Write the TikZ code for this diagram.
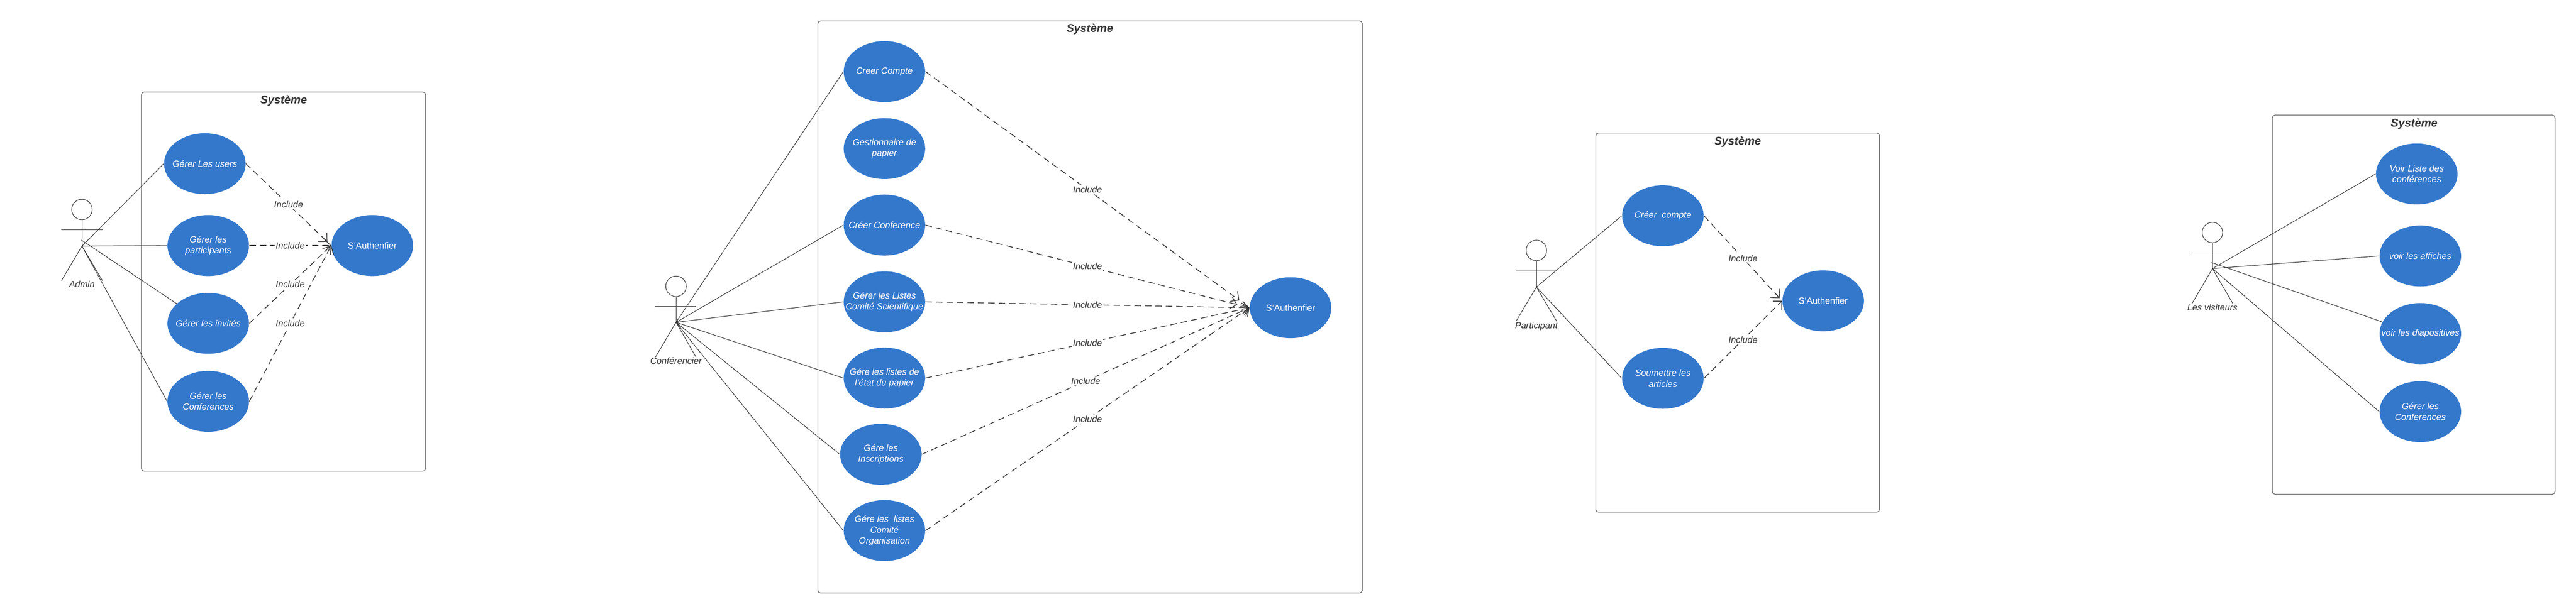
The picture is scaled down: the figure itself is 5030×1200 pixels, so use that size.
\documentclass[tikz,border=0pt]{standalone}
\usepackage{fontspec}
\setmainfont{Liberation Sans}
\usetikzlibrary{arrows.meta, shapes.geometric}
\definecolor{caseblue}{HTML}{3478CC}
\definecolor{inkgray}{HTML}{333333}
\definecolor{boxgray}{HTML}{6F6F6F}

\tikzset{
  sysbox/.style={draw=boxgray, line width=0.4pt, rounded corners=1.5pt},
  systitle/.style={font=\fontsize{6.3}{7.5}\selectfont\bfseries\itshape, text=inkgray, inner sep=0pt},
  usecase/.style={ellipse, fill=caseblue, text=white, align=center, inner xsep=-6pt, inner ysep=0pt,
    minimum width=1.59cm, minimum height=1.19cm, font=\fontsize{5}{6.1}\selectfont\itshape,
    execute at end node={\\[-3.7pt]}},
  authcase/.style={usecase, font=\fontsize{5}{6.1}\selectfont},
  actorline/.style={draw=inkgray, line width=0.3pt},
  actorhead/.style={circle, draw=inkgray, line width=0.3pt, minimum size=0.4cm, inner sep=0pt},
  actorlabel/.style={text=inkgray, inner sep=0pt, anchor=north, font=\fontsize{5}{6.1}\selectfont\itshape},
  incl/.style={draw=inkgray, line width=0.4pt, dash pattern=on 3.6pt off 2.2pt,
    -{Straight Barb[length=3.5pt,width=7pt]}},
  incllabel/.style={fill=white, text=inkgray, inner sep=0.6pt, font=\fontsize{5}{6.1}\selectfont\itshape}
}

\begin{document}
\begin{tikzpicture}[x=0.01cm, y=-0.01cm]
    \useasboundingbox (0,0) rectangle (5030,1200);

    % Admin
    \draw[sysbox] (276,180) rectangle (831,921);
    \node[systitle] (titleAdmin) at (554,197) {Système};

    \node[actorhead] (adminHead) at (160,409.5) {};
    \coordinate (adminHip) at (160,481);
    \coordinate (adminChest) at (158.7,469);
    \draw[actorline] (adminHead) -- (adminHip);
    \draw[actorline] (120,449) -- (200,449);
    \draw[actorline] (120,548.5) -- (adminHip) -- (200,548.5);
    \node[actorlabel] (adminName) at (160,548.5) {Admin};

    \node[usecase] (gererUsers) at (400,320) {Gérer Les users};
    \node[usecase] (gererPart) at (406.6,480) {Gérer les \\ participants};
    \node[usecase] (gererInvit) at (406.6,632) {Gérer les invités};
    \node[usecase] (gererConf) at (406.6,784.5) {Gérer les \\ Conferences};
    \node[authcase] (authAdmin) at (727,480) {S'Authenfier};

    \draw[actorline]
      (adminHip) -- (gererUsers.west)
      (adminHip) -- (gererPart.west)
      (adminChest) -- (gererInvit.148)
      (adminHip) -- (gererConf.west);

    \draw[incl, shorten >=3pt] (gererUsers.east) -- node[incllabel] (inclUsers) {Include} (authAdmin.west);
    \draw[incl] (gererPart.east) -- node[incllabel] (inclPart) {Include} (authAdmin.west);
    \draw[incl] (gererInvit.east) -- node[incllabel] (inclInvit) {Include} (authAdmin.west);
    \draw[incl] (gererConf.east) -- node[incllabel] (inclConf) {Include} (authAdmin.west);

    % Conferencier
    \draw[sysbox] (1597,41) rectangle (2660,1159);
    \node[systitle] (titleConf) at (2128,57) {Système};

    \node[actorhead] (confHead) at (1320,559.6) {};
    \coordinate (confHip) at (1320,630);
    \draw[actorline] (confHead) -- (confHip);
    \draw[actorline] (1280,599.4) -- (1359,599.4);
    \draw[actorline] (1280,698) -- (confHip) -- (1359,698);
    \node[actorlabel] (confName) at (1320,698) {Conférencier};

    \node[usecase] (creerCompte) at (1727,140) {Creer Compte};
    \node[usecase] (gestPapier) at (1727,290.5) {Gestionnaire de \\ papier};
    \node[usecase] (creerConf) at (1727,440) {Créer Conference};
    \node[usecase] (listeSci) at (1727,590) {Gérer les Listes \\ Comité Scientifique};
    \node[usecase] (listeEtat) at (1727,739) {Gére les listes de \\ l'état du papier};
    \node[usecase] (inscrip) at (1720,888) {Gére les \\ Inscriptions};
    \node[usecase] (listeOrga) at (1727,1037) {Gére les\ \ listes \\ Comité \\ Organisation};
    \node[authcase] (authConf) at (2520,601.5) {S'Authenfier};

    \draw[actorline]
      (confHip) -- (creerCompte.west)
      (confHip) -- (creerConf.west)
      (confHip) -- (listeSci.west)
      (confHip) -- (listeEtat.west)
      (confHip) -- (inscrip.west)
      (confHip) -- (listeOrga.west);

    \draw[incl, shorten >=7pt] (creerCompte.east) -- node[incllabel] (inclCompte) {Include} (authConf.west);
    \draw[incl, shorten >=7pt] (creerConf.east) -- node[incllabel] (inclCreer) {Include} (authConf.west);
    \draw[incl] (listeSci.east) -- node[incllabel] (inclSci) {Include} (authConf.west);
    \draw[incl] (listeEtat.east) -- node[incllabel] (inclEtat) {Include} (authConf.west);
    \draw[incl] (inscrip.east) -- node[incllabel] (inclInscrip) {Include} (authConf.west);
    \draw[incl] (listeOrga.east) -- node[incllabel] (inclOrga) {Include} (authConf.west);

    % Participant
    \draw[sysbox] (3116,260) rectangle (3670,1001);
    \node[systitle] (titlePart) at (3393,277) {Système};

    \node[actorhead] (partHead) at (3000,489.5) {};
    \coordinate (partHip) at (3000,561);
    \draw[actorline] (partHead) -- (partHip);
    \draw[actorline] (2960,529.3) -- (3038,529.3);
    \draw[actorline] (2960,628.4) -- (partHip) -- (3040,628.4);
    \node[actorlabel] (partName) at (3000,628.4) {Participant};

    \node[usecase] (creerPart) at (3247,421.8) {Créer\ \ compte};
    \node[usecase] (soumettre) at (3247,739.5) {Soumettre les \\ articles};
    \node[authcase] (authPart) at (3560,588) {S'Authenfier};

    \draw[actorline]
      (partHip) -- (creerPart.west)
      (partHip) -- (soumettre.west);

    \draw[incl, shorten >=2pt] (creerPart.east) -- node[incllabel] (inclCreerPart) {Include} (authPart.west);
    \draw[incl] (soumettre.east) -- node[incllabel] (inclSoum) {Include} (authPart.west);

    % Visiteurs
    \draw[sysbox] (4437,225) rectangle (4989,966);
    \node[systitle] (titleVisit) at (4714,242) {Système};

    \node[actorhead] (visitHead) at (4320,454.5) {};
    \coordinate (visitHip) at (4320,525);
    \coordinate (visitChest) at (4318,513);
    \draw[actorline] (visitHead) -- (visitHip);
    \draw[actorline] (4280,494.4) -- (4360,494.4);
    \draw[actorline] (4280,593.5) -- (visitHip) -- (4360,593.5);
    \node[actorlabel] (visitName) at (4320,593.5) {Les visiteurs};

    \node[usecase] (voirListe) at (4719,340) {Voir Liste des \\ conférences};
    \node[usecase] (voirAffiche) at (4726,500.3) {voir les affiches};
    \node[usecase] (voirDiapo) at (4726,652) {voir les diapositives};
    \node[usecase] (voirConf) at (4726,804.6) {Gérer les \\ Conferences};

    \draw[actorline]
      (visitHip) -- (voirListe.west)
      (visitHip) -- (voirAffiche.west)
      (visitChest) -- (voirDiapo.163)
      (visitHip) -- (voirConf.west);
\end{tikzpicture}
\end{document}
